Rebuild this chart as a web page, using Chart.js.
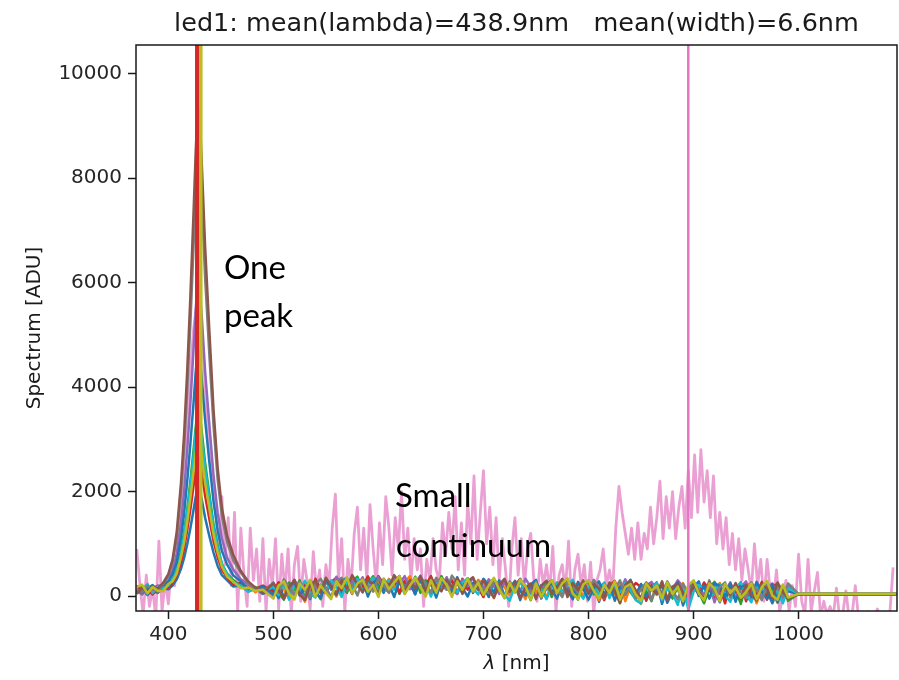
<!DOCTYPE html>
<html>
<head>
<meta charset="utf-8">
<script src="https://cdn.jsdelivr.net/npm/chart.js@4.4.1/dist/chart.umd.min.js"></script>
<style>
  html, body { margin: 0; padding: 0; background: #fff; }
  #wrap { width: 899px; height: 680px; }
</style>
</head>
<body>
<div id="wrap"><canvas id="spectrumChart" width="899" height="680"></canvas></div>
<script>
// wavelength samples shared by the LED spectra (nm)
const lambdaGrid = [370,375,380,385,390,395,400,404,408,412,415,418,421,424,426,428,430,432,435,439,443,447,451,456,462,469,476,483,490,
  500,505,510,515,520,525,530,535,540,545, 550,555,560,565,570,575,580,585,590,595,
  600,605,610,615,620,625,630,635,640,645, 650,655,660,665,670,675,680,685,690,695,
  700,705,710,715,720,725,730,735,740,745, 750,755,760,765,770,775,780,785,790,795,
  800,805,810,815,820,825,830,835,840,845, 850,855,860,865,870,875,880,885,890,895,
  900,905,910,915,920,925,930,935,940,945, 950,955,960,965,970,975,980,985,990,
  1000,1093];

// spectra [ADU], one array per exposure
const ledBlueA = [60,140,20,110,60,150,130,200,320,520,730,990,1300,1650,1890,2090,2030,1830,1500,1150,830,570,400,300,180,200,90,150,40,
  150,-40,220,60,280,10,190,-60,240,90, 300,120,350,40,260,180,330,90,370,150,
  240,60,310,180,380,100,270,30,320,140, 360,80,290,190,20,300,150,340,60,250,
  180,-20,260,110,300,40,220,-80,200,130, 270,10,190,120,-50,240,90,290,30,200,
  70,250,-110,180,40,270,-30,160,310,20, 210,-70,150,260,-150,190,40,230,-180,80,
  170,280,-30,200,110,-120,220,60,-60,170, 30,230,-40,180,90,-140,150,40,90,
  38,38];
const ledOrangeA = [150,40,120,200,90,150,260,290,470,770,1090,1490,1970,2500,2870,3180,3100,2780,2270,1750,1240,860,590,380,290,170,180,70,170,
  20,250,130,-60,180,90,-110,200,230,60, 290,170,-10,260,130,330,210,80,370,190,
  290,110,330,200,60,270,380,120,300,180, 70,340,230,120,300,40,280,170,90,310,
  220,130,-40,250,170,20,290,110,-60,230, 80,190,-30,260,140,40,300,100,230,-20,
  250,80,-80,220,130,30,260,-100,190,60, -150,230,120,20,270,-40,160,90,250,30,
  280,140,-60,200,60,250,-110,180,90,-20, 190,260,-140,130,210,60,-130,190,-40,
  38,38];
const ledGreen = [90,180,60,140,200,110,240,310,500,850,1220,1660,2210,2800,3230,3570,3480,3120,2550,1960,1380,960,600,430,300,190,110,170,90,
  240,60,-70,260,110,300,-40,200,90,-60, 270,160,330,210,60,290,370,140,250,380,
  150,270,90,330,40,280,150,370,60,300, 260,110,380,170,40,300,200,330,90,260,
  50,260,320,140,-30,240,70,280,170,-80, 220,130,290,-20,260,60,300,150,-70,230,
  280,30,190,-50,230,120,-140,250,70,-60, 220,90,-100,240,40,190,-50,180,110,-40,
  230,70,-140,160,270,40,-60,210,120,-150, 200,80,10,250,-30,150,-20,190,-90,
  38,38];
const ledRed = [200,90,160,30,130,220,150,250,390,650,910,1270,1660,2110,2420,2680,2610,2340,1920,1480,1050,740,500,350,210,250,90,140,200,
  80,260,-40,150,310,60,240,20,330,130, 60,270,350,110,260,40,310,190,370,90,
  380,220,120,350,60,290,180,80,340,200, 380,100,270,190,300,50,330,120,250,160,
  -20,280,190,60,300,110,200,330,70,160, 250,20,130,290,70,230,160,-30,270,120,
  50,260,140,-80,200,290,-20,230,110,250, 170,-90,220,60,240,-70,120,280,20,-120,
  170,40,260,120,-60,180,-140,240,70,260, -100,180,50,270,-70,190,230,-80,150,
  38,38];
const ledPurple = [110,30,170,90,190,210,370,480,810,1400,2010,2810,3700,4730,5460,6060,5880,5290,4300,3290,2310,1590,1100,730,500,320,220,110,150,
  -10,180,240,40,310,120,-40,230,170,60, 280,130,370,200,120,300,190,360,80,310,
  360,140,80,320,230,380,130,250,390,150, 70,300,180,360,120,40,310,190,350,120,
  110,320,200,40,260,110,290,80,330,170, -40,210,120,270,60,320,150,-60,240,190,
  300,60,170,250,-20,230,80,320,130,40, -70,200,270,110,-20,240,130,300,170,-90,
  260,140,20,220,-120,190,90,260,-40,160, 280,-60,200,-20,150,240,40,-90,180,
  38,38];
const ledCyan = [70,120,230,60,170,140,200,320,490,820,1150,1610,2110,2680,3100,3430,3330,2990,2440,1880,1320,920,620,420,260,200,80,150,70,
  180,20,250,-70,200,120,290,50,-30,220, 90,300,180,-20,270,110,330,80,240,350,
  60,210,310,120,270,40,220,330,160,250, -10,240,130,300,200,70,260,340,150,30,
  320,210,90,240,30,-90,200,260,100,40, 250,130,-60,170,240,80,200,310,100,-50,
  170,230,40,260,-40,180,70,250,110,-80, -140,210,130,250,-80,140,60,-170,230,-260,
  80,210,150,-40,90,230,10,-110,170,260, 30,-120,200,90,250,-20,110,-140,150,
  38,38];
const ledBlueB = [100,60,140,210,110,210,280,420,650,1110,1580,2210,2920,3700,4280,4720,4610,4120,3370,2570,1810,1260,860,600,390,280,140,130,180,
  30,210,-50,190,260,20,140,300,80,-40, 310,160,20,290,350,60,200,300,-10,250,
  340,110,230,-20,300,180,270,40,310,110, 240,-30,290,180,80,360,150,-10,250,120,
  330,200,60,300,-20,170,280,90,10,220, 310,-40,160,240,70,290,110,-60,250,140,
  -70,150,280,30,230,-90,180,110,270,20, 230,-20,170,60,200,-130,90,260,-70,160,
  290,0,200,-50,250,190,-20,240,-110,170, 210,-20,270,80,-60,230,-120,160,-40,
  38,38];
const ledGray = [130,70,200,120,90,230,400,640,1110,1960,2830,3960,5230,6710,7730,8600,8330,7490,6100,4630,3260,2220,1530,1030,680,450,250,150,80,
  260,70,320,180,20,270,110,-30,230,330, 160,-20,270,350,120,230,10,310,200,90,
  340,210,60,280,380,130,300,160,360,240, 60,350,220,120,390,250,40,310,170,280,
  150,50,300,220,-40,280,120,320,160,60, 270,-50,230,300,120,-20,260,180,70,240,
  90,310,170,-50,240,130,300,20,220,-40, 130,260,-80,210,50,280,100,-60,220,60,
  250,120,-70,300,30,170,260,-30,190,80, -40,260,120,-80,210,40,180,-20,240,
  38,38];
const ledBrown = [40,150,90,180,140,250,420,700,1230,2160,3100,4330,5750,7350,8480,9440,9150,8200,6690,5090,3570,2440,1680,1150,780,480,280,160,60,
  240,110,-50,170,300,30,-80,220,290,60, 350,190,50,300,140,400,220,70,310,220,
  50,330,170,400,260,90,310,140,380,70, 350,200,90,310,160,340,50,280,360,120,
  300,130,-30,220,330,80,270,-40,160,240, -60,200,290,40,170,330,-20,250,110,300,
  40,230,140,-30,260,80,-130,210,300,110, -40,250,160,40,280,-80,180,240,70,-20,
  220,80,-60,260,140,-100,200,30,250,-60, 210,20,-90,240,140,-40,260,80,-50,
  34,34];
const ledOlive = [170,220,50,170,100,90,230,280,430,740,1030,1420,1880,2390,2730,3040,2960,2650,2170,1680,1180,830,560,370,270,150,160,100,120,
  -50,200,280,40,-70,240,120,310,-10,200, 60,-60,280,150,360,50,240,310,80,210,
  -20,320,130,260,380,40,200,350,170,-10, 300,60,340,210,-20,280,120,330,90,260,
  20,200,350,120,-40,250,60,310,190,-70, 240,-10,170,300,60,240,340,50,-60,220,
  300,100,-40,210,60,280,-70,170,230,30, -90,240,100,200,-50,260,40,180,-100,210,
  300,50,-80,240,140,-100,230,60,170,-30, 80,240,-60,170,290,10,-70,220,-30,
  42,42];

// the noisy exposure has its own, finer sampling
const noisyGrid = [370,373,376,379,382,385,388,391,394,397, 400,403,406,409,412,415,418,421,424,427,
  430,433,436,439,442,445,448,451,454,457, 460,463,466,469,472,475,478,481,484,487,
  490,493,496,499,502,505,508,511,514,517, 520,523,526,529,532,535,538,541,544,547,
  550,553,556,559,562,565,568,571,574,577, 580,583,586,589,592,595,598,601,604,607,
  610,613,616,619,622,625,628,631,634,637, 640,643,646,649,652,655,658,661,664,667,
  670,673,676,679,682,685,688,691,694,697, 700,703,706,709,712,715,718,721,724,727,
  730,733,736,739,742,745,748,751,754,757, 760,763,766,769,772,775,778,781,784,787,
  790,793,796,799,802,805,808,811,814,817, 820,823,826,829,832,835,838,841,844,847,
  850,853,856,859,862,865,868,871,874,877, 880,883,886,889,892,895,898,901,904,907,
  910,913,916,919,922,925,928,931,934,937, 940,943,946,949,952,955,958,961,964,967,
  970,973,976,979,982,985,988,991,994,997, 1000,1003,1006,1009,1012,1015,1018,1021,1024,1027,
  1030,1033,1036,1039,1042,1045,1048,1051,1054,1057, 1060,1063,1066,1069,1072,1075,1078,1081,1084,1087,
  1090];
const ledNoisy = [900,200,-350,400,-200,150,-400,1050,-300,300, -150,600,200,1100,1800,2600,3400,4300,5100,5600,
  5400,4700,3700,2800,2200,1700,700,1900,600,1500, 200,1600,-300,1300,400,-200,1300,300,900,-100,
  1100,-300,700,200,1100,-250,800,100,900,-350, 600,950,-100,700,300,-250,850,100,500,-200,
  600,200,1300,1950,300,1100,-300,700,200,1200, 1700,500,1300,300,1750,900,200,1400,600,1900,
  1300,400,1500,900,2000,700,1300,300,1100,500, 900,-200,700,300,1100,500,300,1400,800,1600,
  900,1900,500,1400,400,1800,1000,2300,700,1600, 2400,1000,1700,600,1500,300,1100,500,-200,900,
  1500,400,1100,200,900,1200,300,-100,700,200, 600,100,950,-300,400,600,100,1050,-200,500,
  800,200,600,-100,650,-350,300,500,900,200, 500,100,1300,2100,1600,1200,800,1300,700,1400,
  700,1200,900,1700,1000,1500,2200,1100,1900,1300, 2000,1100,1700,2100,1300,2400,1500,2700,1600,2800,
  1800,2400,1500,2300,1000,1600,900,1500,600,1200, 500,1100,300,900,500,100,1000,200,700,-100,
  700,100,-100,500,-300,0,300,-300,200,-200, 800,-100,-350,700,-300,100,450,-400,-100,-350,
  -200,-400,150,-400,-350,100,-400,-350,200,-400, -350,-400,-300,-400,-400,-250,-400,-350,-400,-300,
  550];

// saturated pixels show up as vertical lines
const saturatedLambda = [427.3, 430.9, 895];
const saturatedSpan = [-1000, 12000];

const xTicks = [400, 500, 600, 700, 800, 900, 1000];
const yTicks = [0, 2000, 4000, 6000, 8000, 10000];

const titleText = "led1: mean(lambda)=438.9nm   mean(width)=6.6nm";

const ledSpectra = [ledBlueA, ledOrangeA, ledGreen, ledRed, ledPurple, ledCyan, ledBlueB, ledGray, ledBrown, ledOlive];
const ledColors = ["#1f77b4", "#ff7f0e", "#2ca02c", "#d62728", "#9467bd", "#17becf", "#1f77b4", "#7f7f7f", "#8c564b", "#bcbd22"];
const saturatedColors = ["#d62728", "#bcbd22", "#e377c2"];
const saturatedWidths = [4, 3.5, 2.5];

const datasets = [];

// noisy one sits underneath everything
datasets.push({
    data: ledNoisy.map((y, k) => ({ x: noisyGrid[k], y: y })),
    borderColor: "rgba(227, 119, 194, 0.7)",
    borderWidth: 2.8,
    order: 100
});

ledSpectra.forEach(function (vals, i) {
    datasets.push({
        data: vals.map((y, k) => ({ x: lambdaGrid[k], y: y })),
        borderColor: ledColors[i],
        borderWidth: 2.5,
        order: 50 - i
    });
});

saturatedLambda.forEach(function (x, i) {
    datasets.push({
        data: saturatedSpan.map(y => ({ x: x, y: y })),
        borderColor: saturatedColors[i],
        borderWidth: saturatedWidths[i],
        order: -10 - i
    });
});

const figureText = {
    id: "figureText",
    afterDraw(chart) {
        const ctx = chart.ctx;
        const area = chart.chartArea;
        const midX = (area.left + area.right) / 2;
        ctx.save();

        // axes box
        ctx.strokeStyle = "#1a1a1a";
        ctx.lineWidth = 1.5;
        ctx.strokeRect(area.left, area.top, area.right - area.left, area.bottom - area.top);

        ctx.fillStyle = "#1a1a1a";
        ctx.textAlign = "center";
        ctx.textBaseline = "alphabetic";
        ctx.font = "25.5px 'DejaVu Sans'";
        ctx.fillText(titleText, midX, 31);

        // y label
        ctx.save();
        ctx.translate(35, (area.top + area.bottom) / 2);
        ctx.rotate(-Math.PI / 2);
        ctx.textBaseline = "middle";
        ctx.font = "20px 'DejaVu Sans'";
        ctx.fillText("Spectrum [ADU]", 0, 0);
        ctx.restore();

        // x label with italic lambda
        ctx.textBaseline = "middle";
        ctx.textAlign = "left";
        const lam = "λ", rest = " [nm]";
        ctx.font = "italic 20px 'DejaVu Sans'";
        const w1 = ctx.measureText(lam).width;
        ctx.font = "20px 'DejaVu Sans'";
        const w2 = ctx.measureText(rest).width;
        const x0 = midX - (w1 + w2) / 2;
        ctx.font = "italic 20px 'DejaVu Sans'";
        ctx.fillText(lam, x0, 664);
        ctx.font = "20px 'DejaVu Sans'";
        ctx.fillText(rest, x0 + w1, 664);

        // slide annotations
        ctx.fillStyle = "#000";
        ctx.textBaseline = "alphabetic";
        ctx.font = "33px Lato";
        ctx.fillText("One", 224, 279);
        ctx.fillText("peak", 224, 327);
        ctx.fillText("Small", 395, 507);
        ctx.fillText("continuum", 396, 557);

        ctx.restore();
    }
};

const tickGrid = {
    display: true,
    drawOnChartArea: false,
    drawTicks: true,
    tickLength: 8,
    tickWidth: 1.5,
    tickColor: "#1a1a1a"
};

Chart.defaults.font.family = "'DejaVu Sans'";

new Chart(document.getElementById("spectrumChart"), {
    type: "line",
    data: { datasets: datasets },
    options: {
        responsive: false,
        animation: false,
        devicePixelRatio: 1,
        layout: { padding: { top: 45, right: 2, left: 0, bottom: 0 } },
        elements: {
            point: { radius: 0 },
            line: { tension: 0, borderJoinStyle: "round", borderCapStyle: "butt" }
        },
        plugins: {
            legend: { display: false },
            tooltip: { enabled: false }
        },
        scales: {
            x: {
                type: "linear",
                min: 369.2,
                max: 1093.7,
                grid: tickGrid,
                border: { display: false },
                afterBuildTicks: scale => { scale.ticks = xTicks.map(v => ({ value: v })); },
                afterFit: scale => { scale.height = 69; },
                ticks: {
                    color: "#262626",
                    font: { size: 20 },
                    padding: 4,
                    maxRotation: 0,
                    callback: v => String(v)
                }
            },
            y: {
                min: -287,
                max: 10549,
                grid: tickGrid,
                border: { display: false },
                afterBuildTicks: scale => { scale.ticks = yTicks.map(v => ({ value: v })); },
                afterFit: scale => { scale.width = 136; },
                ticks: {
                    color: "#262626",
                    font: { size: 20 },
                    padding: 6,
                    callback: v => String(v)
                }
            }
        }
    },
    plugins: [figureText]
});
</script>
</body>
</html>
